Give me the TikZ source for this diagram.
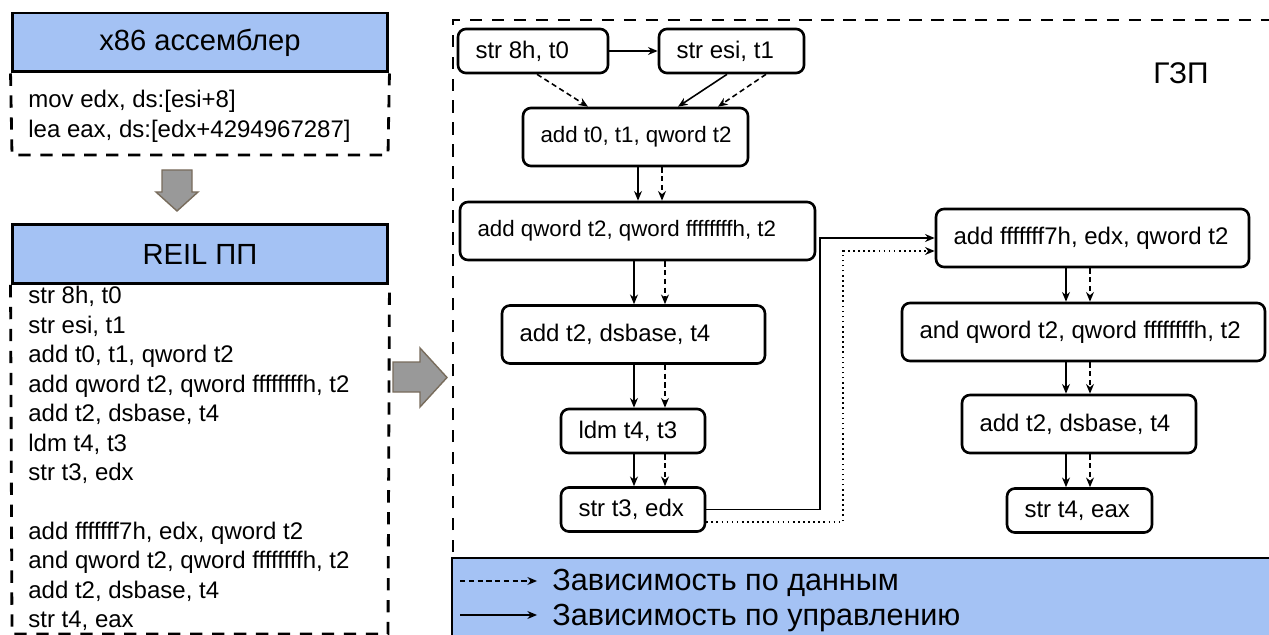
\documentclass[tikz,border=0pt]{standalone}
\usepackage{fontspec}
\setmainfont{Liberation Sans}
\usetikzlibrary{arrows.meta}
\definecolor{hdrblue}{RGB}{164,194,244}
\definecolor{fatgray}{RGB}{153,153,153}
\definecolor{fatedge}{RGB}{120,108,92}

\begin{document}
\begin{tikzpicture}[x=0.02cm, y=-0.02cm,
  every node/.style={font=\fontsize{13.66}{16.77}\selectfont},
  hdr/.style={draw, fill=hdrblue, line width=1.7pt, minimum width=7.52cm, minimum height=1.18cm, font=\fontsize{16.6}{20}\selectfont},
  listing/.style={anchor=north west, inner sep=0pt, align=left},
  op/.style={draw, rounded corners=4.5pt, line width=1.5pt, inner xsep=0.35cm, minimum height=1.16cm,
    execute at begin node={\hbox to #1\bgroup}, execute at end node={\hss\egroup}},
  low/.style={minimum height=0.88cm},
  tight/.style={font=\fontsize{12.7}{15}\selectfont},
  ctrl/.style={-{Stealth[length=5.5pt, width=4.5pt]}, line width=0.9pt},
  data/.style={ctrl, dash pattern=on 3pt off 2pt},
  loose/.style={ctrl, dotted},
  dbox/.style={line width=1.6pt, dash pattern=on 7pt off 5.5pt},
  fat/.style={fill=fatgray, draw=fatedge, line width=0.8pt, line join=miter},
  legend/.style={anchor=base west, inner sep=0pt, font=\fontsize{17.4}{20}\selectfont},
  key/.style={shorten >=8.5pt, line width=0.8pt}]
  \useasboundingbox (0,0) rectangle (1269,635);
  \clip (0,0) rectangle (1269,635);

  % source listing
  \node[hdr] (x86) at (200,42.5) {x86 ассемблер};
  \draw[dbox] (x86.south west) -- (12,155) -- (388,155) -- (x86.south east);
  \node[listing] (asm) at (28,90) {mov edx, ds:[esi+8]\\lea eax, ds:[edx+4294967287]};
  \draw[fat] (162,170) -- (192,170) -- (192,192) -- (198,192) -- (177,211) -- (156,192) -- (162,192) -- cycle;

  % REIL listing
  \node[hdr] (reil) at (200,254) {REIL ПП};
  \draw[dbox] (reil.south west) -- (12,634) -- (388,634) -- (reil.south east);
  \node[listing] (code) at (28,286) {str 8h, t0\\str esi, t1\\add t0, t1, qword t2\\add qword t2, qword ffffffffh, t2\\add t2, dsbase, t4\\ldm t4, t3\\str t3, edx\\[16.77pt]add fffffff7h, edx, qword t2\\and qword t2, qword ffffffffh, t2\\add t2, dsbase, t4\\str t4, eax};
  \draw[fat] (393,362) -- (420,362) -- (420,348) -- (447,377.5) -- (420,407) -- (420,392) -- (393,392) -- cycle;

  % graph frame and legend
  \fill[hdrblue] (452,558) rectangle (1280,640);
  \draw[line width=1.2pt] (452,640) -- (452,558) -- (1280,558);
  \draw[dbox] (453,552) -- (453,20) -- (1280,20);
  \node[font=\fontsize{17}{20}\selectfont] (gzp) at (1181,73) {ГЗП};

  % left chain
  \node[op=2.3cm, low] (s8) at (533,51) {str 8h, t0};
  \node[op=2.2cm, low] (sesi) at (731.5,51) {str esi, t1};
  \node[op=3.8cm, tight] (a01) at (635.5,137) {add t0, t1, qword t2};
  \node[op=6.4cm, tight] (aq) at (637.5,231) {add qword t2, qword ffffffffh, t2};
  \node[op=4.56cm] (ads) at (633.5,334.5) {add t2, dsbase, t4};
  \node[op=2.18cm, low] (ldm) at (633,431) {ldm t4, t3};
  \node[op=2.18cm, low] (st3) at (633,509.5) {str t3, edx};

  % right chain
  \node[op=5.56cm] (aff) at (1092.5,238) {add fffffff7h, edx, qword t2};
  \node[op=6.56cm] (andq) at (1083.5,332) {and qword t2, qword ffffffffh, t2};
  \node[op=3.98cm] (ads2) at (1079,424) {add t2, dsbase, t4};
  \node[op=2.2cm, low] (st4) at (1079.5,510.5) {str t4, eax};

  \draw[ctrl] (s8) -- (sesi);
  \draw[data] (s8.south -| 537,0) -- (a01.north -| 588,0);
  \draw[ctrl] (sesi.south -| 727,0) -- (a01.north -| 678,0);
  \draw[data] (sesi.south -| 766,0) -- (a01.north -| 718,0);
  \foreach \a/\b/\xc/\xd in {a01/aq/638/662, aq/ads/634/665, ads/ldm/634/665, ldm/st3/634/665, aff/andq/1066/1090, andq/ads2/1066/1090, ads2/st4/1066/1090}
  {
    \draw[ctrl] (\a.south -| \xc,0) -- (\b.north -| \xc,0);
    \draw[data] (\a.south -| \xd,0) -- (\b.north -| \xd,0);
  }
  \draw[ctrl] (st3.east) -| (820,238) -- (aff.west);
  \draw[loose] (st3.east |- 0,522) -| (843,251) -- (aff.west |- 0,251);

  % legend
  \coordinate (kd) at (460,581);
  \coordinate (kc) at (460,615);
  \node[legend] (ld) at (552,590) {Зависимость по данным};
  \node[legend] (lc) at (552,625) {Зависимость по управлению};
  \draw[data, key] (kd) -- (ld.base west |- kd);
  \draw[ctrl, key] (kc) -- (lc.base west |- kc);
\end{tikzpicture}
\end{document}
